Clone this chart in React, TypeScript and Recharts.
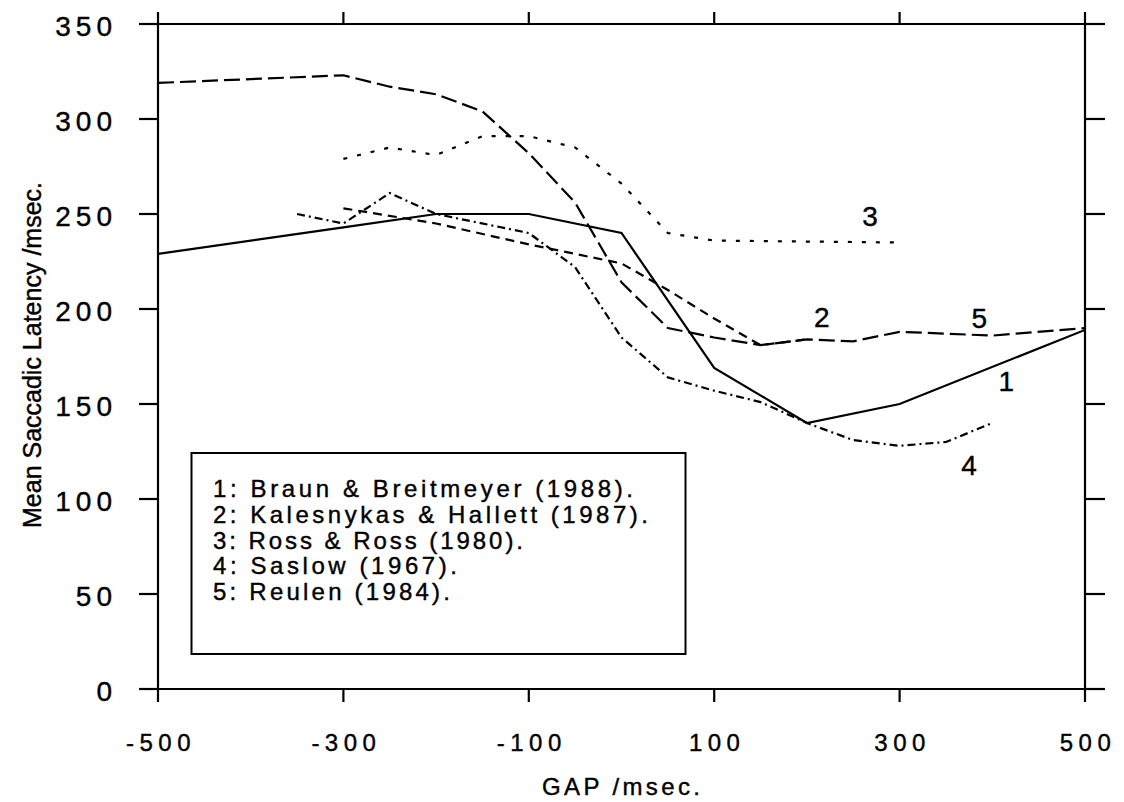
import React from 'react';
import { LineChart, Line, XAxis, YAxis, ReferenceDot } from 'recharts';

const W = 1124;
const H = 802;
const FONT = '"Liberation Sans", Arial, Helvetica, sans-serif';

// axis ticks
const xTicks = [-500, -300, -100, 100, 300, 500];
const yTicks = [0, 50, 100, 150, 200, 250, 300, 350];

// 1: Braun & Breitmeyer (1988) - solid
const braunGap = [-500, -300, -200, -100, 0, 100, 200, 300, 500];
const braunLat = [229, 243, 250, 250, 240, 169, 140, 150, 189];

// 2: Kalesnykas & Hallett (1987) - dashed
const kalesGap = [-300, -200, -100, 0, 50, 100, 150, 200];
const kalesLat = [253, 245, 234, 224, 210, 195, 181, 184];

// 3: Ross & Ross (1980) - dotted
const rossGap = [-300, -250, -200, -150, -100, -50, 0, 50, 100, 300];
const rossLat = [279, 285, 281, 291, 291, 285, 266, 240, 236, 235];

// 4: Saslow (1967) - dash-dot
const saslowGap = [-350, -300, -250, -200, -100, -50, 0, 50, 100, 150, 200, 250, 300, 350, 400];
const saslowLat = [250, 245, 261, 250, 240, 222, 185, 164, 157, 151, 140, 131, 128, 130, 140];

// 5: Reulen (1984) - long dash
const reulenGap = [-500, -300, -250, -200, -150, -100, -50, 0, 50, 100, 150, 200, 250, 300, 400, 500];
const reulenLat = [319, 323, 317, 313, 304, 282, 256, 214, 190, 185, 181, 184, 183, 188, 186, 190];

const legendLines = [
  '1: Braun & Breitmeyer (1988).',
  '2: Kalesnykas & Hallett (1987).',
  '3: Ross & Ross (1980).',
  '4: Saslow (1967).',
  '5: Reulen (1984).',
];
const legendWidths = [420, 435, 310, 244, 237];

// numbers written next to the curves
const curveLabelText = ['3', '2', '5', '1', '4'];
const curveLabelGap = [268, 216, 386, 415, 375];
const curveLabelLat = [249, 196, 195, 162, 118];

const toPoints = (gaps: number[], lats: number[]) => gaps.map((g, i) => ({ gap: g, lat: lats[i] }));

const series = [
  { key: 'braun', data: toPoints(braunGap, braunLat), dash: undefined },
  { key: 'kales', data: toPoints(kalesGap, kalesLat), dash: '9 6' },
  { key: 'ross', data: toPoints(rossGap, rossLat), dash: '4 10' },
  { key: 'saslow', data: toPoints(saslowGap, saslowLat), dash: '8 4 2 4' },
  { key: 'reulen', data: toPoints(reulenGap, reulenLat), dash: '16 6' },
];

// scanned print looks a bit heavy, so give the text a thin outline
const ink = { fill: '#000', stroke: '#000', strokeWidth: 0.4 };

const YTick = (props: any) => {
  const { x, y, payload } = props;
  return (
    <text x={x - 20} y={y + 12} textAnchor="end" fontSize={28} fontFamily={FONT} {...ink} style={{ letterSpacing: 5 }}>
      {String(payload.value)}
    </text>
  );
};

const XTick = (props: any) => {
  const { x, y, payload } = props;
  return (
    <text x={x + 3} y={y + 47} textAnchor="middle" fontSize={24} fontFamily={FONT} {...ink} style={{ letterSpacing: 5.5 }}>
      {String(payload.value)}
    </text>
  );
};

const NoTick = () => <g />;

const App: React.FC = () => {
  return (
    <div style={{ position: 'absolute', left: 0, top: 0, width: W, height: H, background: '#fff' }}>
      <LineChart width={W} height={H} margin={{ top: 23, right: 38, left: 78, bottom: 53 }}>
        <XAxis
          xAxisId="b"
          dataKey="gap"
          type="number"
          domain={[-500, 500]}
          ticks={xTicks}
          allowDataOverflow
          height={60}
          tickSize={13}
          stroke="#000"
          strokeWidth={2.2}
          tick={<XTick />}
        />
        <XAxis
          xAxisId="t"
          orientation="top"
          dataKey="gap"
          type="number"
          domain={[-500, 500]}
          ticks={xTicks}
          allowDataOverflow
          height={1}
          tickSize={12}
          stroke="#000"
          strokeWidth={2.2}
          tick={NoTick}
        />
        <YAxis
          yAxisId="l"
          type="number"
          domain={[0, 350]}
          ticks={yTicks}
          allowDataOverflow
          width={80}
          tickSize={19}
          stroke="#000"
          strokeWidth={2.2}
          tick={<YTick />}
        />
        <YAxis
          yAxisId="r"
          orientation="right"
          type="number"
          domain={[0, 350]}
          ticks={yTicks}
          allowDataOverflow
          width={1}
          tickSize={20}
          stroke="#000"
          strokeWidth={2.2}
          tick={NoTick}
        />

        {series.map(s => (
          <Line
            key={s.key}
            xAxisId="b"
            yAxisId="l"
            data={s.data}
            dataKey="lat"
            type="linear"
            stroke="#000"
            strokeWidth={2.2}
            strokeDasharray={s.dash}
            dot={false}
            activeDot={false}
            isAnimationActive={false}
          />
        ))}

        {curveLabelText.map((t, i) => (
          <ReferenceDot
            key={t}
            xAxisId="b"
            yAxisId="l"
            x={curveLabelGap[i]}
            y={curveLabelLat[i]}
            r={1}
            fill="none"
            stroke="none"
            label={{ value: t, position: 'center', fontSize: 28, fill: '#000', stroke: '#000', strokeWidth: 0.4, fontFamily: FONT }}
          />
        ))}
      </LineChart>

      <svg width={W} height={H} style={{ position: 'absolute', left: 0, top: 0, pointerEvents: 'none' }}>
        <rect x={191.5} y={453} width={494} height={201} fill="#fff" stroke="#000" strokeWidth={2} />
        {legendLines.map((t, i) => (
          <text
            key={t}
            x={213}
            y={497 + i * 25.8}
            fontSize={24}
            fontFamily={FONT}
            {...ink}
            textLength={legendWidths[i]}
            lengthAdjust="spacing"
          >
            {t}
          </text>
        ))}
        <text x={542} y={795} fontSize={24} fontFamily={FONT} {...ink} textLength={158} lengthAdjust="spacing">
          GAP /msec.
        </text>
        <text
          transform="translate(41,355) rotate(-90)"
          x={0}
          y={0}
          textAnchor="middle"
          fontSize={25}
          fontFamily={FONT}
          {...ink}
        >
          Mean Saccadic Latency /msec.
        </text>
      </svg>
    </div>
  );
};

export default App;
